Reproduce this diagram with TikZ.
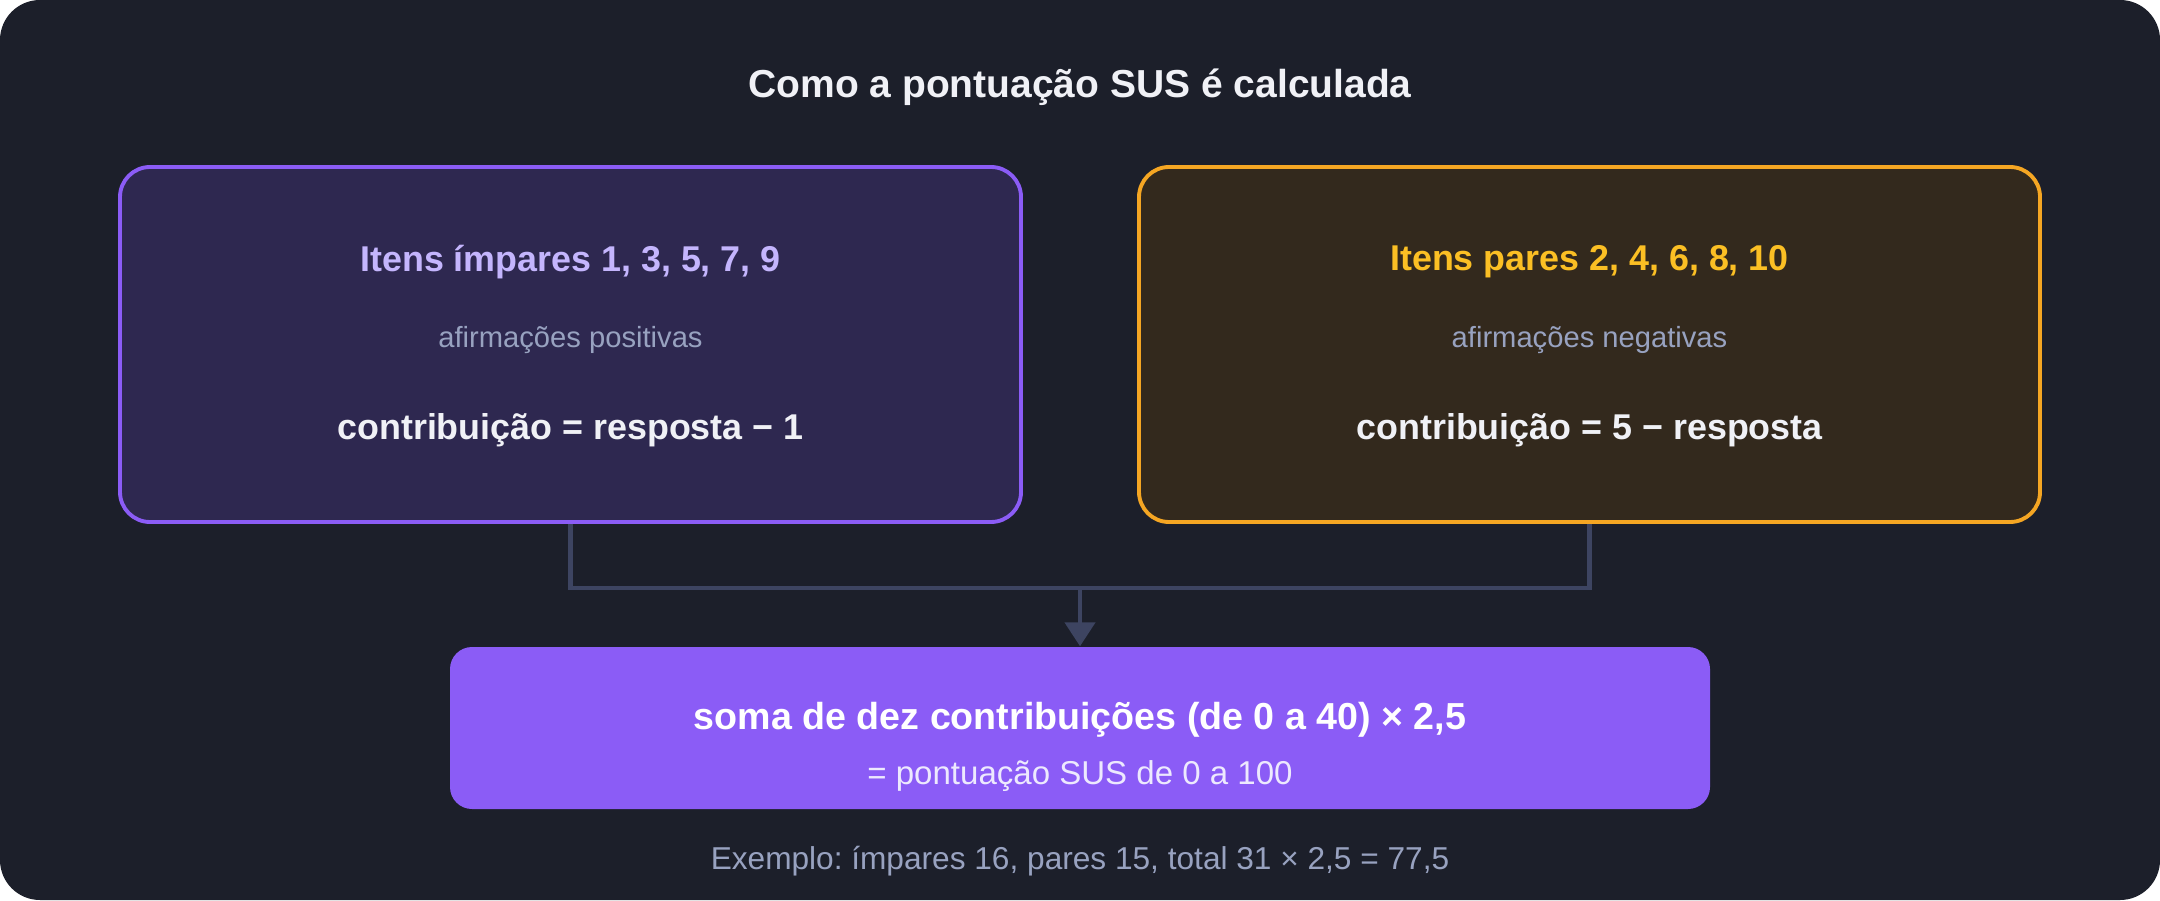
\documentclass[tikz,border=0pt]{standalone}
\usepackage{fontspec}
\setmainfont{Liberation Sans}
\usetikzlibrary{arrows.meta,positioning}

\definecolor{fundo}{HTML}{1C1F2A}
\definecolor{roxo}{HTML}{8B5CF6}
\definecolor{roxofundo}{HTML}{2E2850}
\definecolor{roxoclaro}{HTML}{C4B5FD}
\definecolor{ambar}{HTML}{F5A623}
\definecolor{ambarfundo}{HTML}{33291D}
\definecolor{ambarclaro}{HTML}{FBBF24}
\definecolor{cinza}{HTML}{98A2C0}
\definecolor{branco}{HTML}{F0F1F6}
\definecolor{lilas}{HTML}{EDE9FE}
\definecolor{ligacao}{HTML}{3D4461}

\newcommand{\tamanho}[1]{\fontsize{#1}{#1}\selectfont}
\frenchspacing

\tikzset{
  caixa/.style={draw, line width=1.1pt, rounded corners=0.3cm, minimum width=9.01cm, minimum height=3.55cm, inner sep=0pt},
  texto/.style={inner sep=0pt, align=center},
  ligar/.style={ligacao, line width=1.3pt},
}

\begin{document}
\begin{tikzpicture}
% fundo
\useasboundingbox (0,0) rectangle (21.6,9);
\fill[white] (0,0) rectangle (21.6,9);
\fill[fundo, rounded corners=0.4cm] (0,0) rectangle (21.6,9);

% titulo
\node[texto, text=branco] (titulo) at (10.8,8.13) {\tamanho{11.1}\bfseries Como a pontuação SUS é calculada};

% caixas
\node[caixa, draw=roxo, fill=roxofundo] (impares) at (5.705,5.555) {};
\node[caixa, draw=ambar, fill=ambarfundo] (pares) at (15.895,5.555) {};

% itens impares
\node[texto, text=roxoclaro] (impares1) at (5.705,6.38) {\tamanho{10.2}\bfseries Itens ímpares 1, 3, 5, 7, 9};
\node[texto, text=cinza] (impares2) at (5.705,5.6) {\tamanho{8.3}afirmações positivas};
\node[texto, text=branco] (impares3) at (5.705,4.7) {\tamanho{10.2}\bfseries contribuição = resposta − 1};

% itens pares
\node[texto, text=ambarclaro] (pares1) at (15.895,6.38) {\tamanho{10.2}\bfseries Itens pares 2, 4, 6, 8, 10};
\node[texto, text=cinza] (pares2) at (15.895,5.6) {\tamanho{8.3}afirmações negativas};
\node[texto, text=branco] (pares3) at (15.895,4.7) {\tamanho{10.2}\bfseries contribuição = 5 − resposta};

% soma
\node[fill=roxo, rounded corners=0.22cm, minimum width=12.6cm, minimum height=1.62cm, inner sep=0pt] (soma) at (10.8,1.72) {};
\node[texto, text=white] (soma1) at (10.8,1.8) {\tamanho{10.7}\bfseries soma de dez contribuições (de 0 a 40) × 2,5};
\node[texto, text=lilas] (soma2) at (10.8,1.24) {\tamanho{9.4}= pontuação SUS de 0 a 100};

% ligacoes
\coordinate (juncao) at (10.8,3.12);
\draw[ligar] (impares.south) |- (juncao) -| (pares.south);
\draw[ligar, -{Triangle[width=0.3cm,length=0.24cm]}] (juncao) -- (soma.north);

% exemplo
\node[texto, text=cinza] (exemplo) at (10.8,0.39) {\tamanho{9}Exemplo: ímpares 16, pares 15, total 31 × 2,5 = 77,5};

\end{tikzpicture}
\end{document}
